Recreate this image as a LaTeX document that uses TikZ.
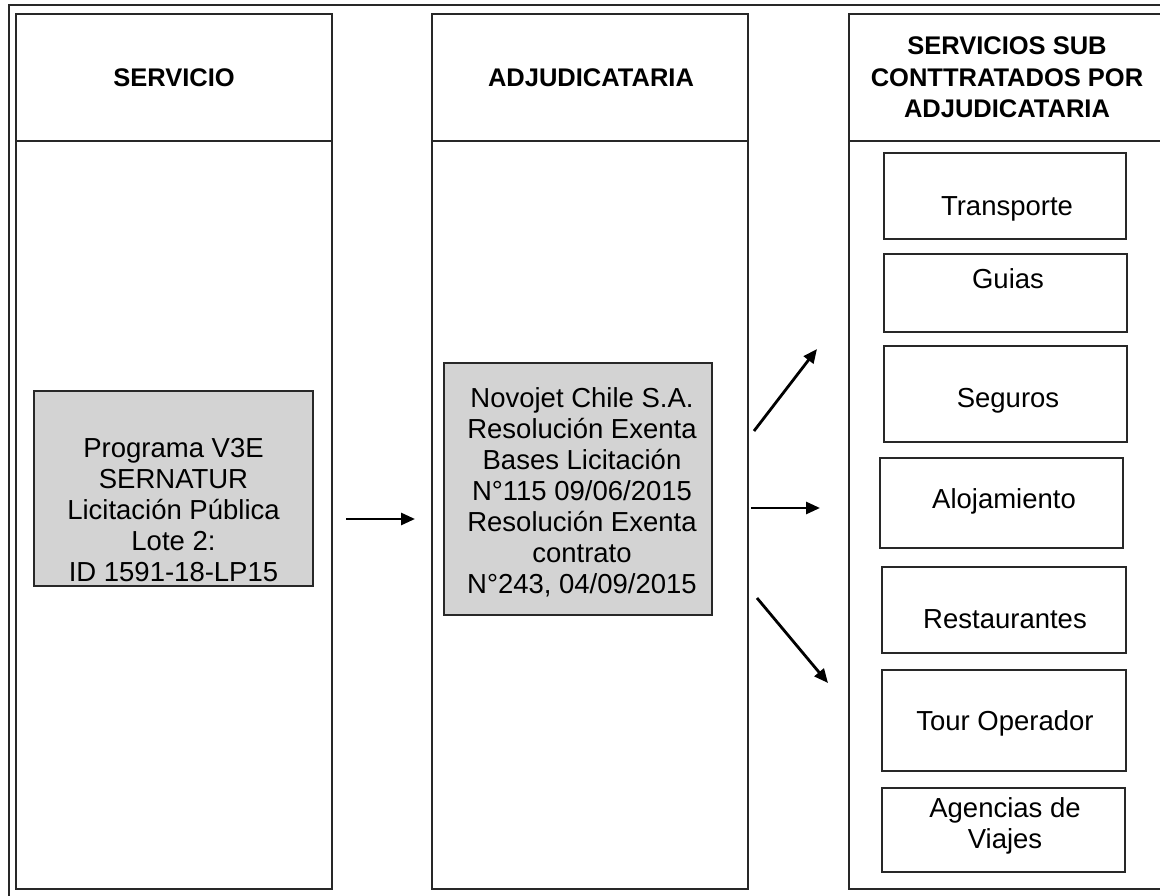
\documentclass[tikz,border=0pt]{standalone}
\usepackage{fontspec}
\setmainfont{Liberation Sans}
\usetikzlibrary{arrows.meta}
\definecolor{boxgray}{RGB}{211,211,211}
\definecolor{linegray}{RGB}{40,40,40}
\begin{document}
\begin{tikzpicture}[x=1pt,y=-1pt,
  outerframe/.style={draw=linegray, line width=1.3pt},
  colbox/.style={draw=linegray, line width=1.6pt, minimum width=316pt, minimum height=875pt, inner sep=0pt},
  graybox/.style={draw=linegray, line width=1.5pt, fill=boxgray, inner sep=0pt},
  subbox/.style={draw=linegray, line width=1.5pt, inner sep=0pt},
  headtxt/.style={font=\fontsize{25.5}{31.5}\selectfont\bfseries, align=center, anchor=base, inner sep=0pt},
  bodytxt/.style={font=\fontsize{27.5}{31}\selectfont, align=center, anchor=base, inner sep=0pt},
  flow/.style={line width=2.8pt, -{Triangle[length=14pt,width=12pt]}}]
\clip (0,0) rectangle (1160,896);
\fill[white] (0,0) rectangle (1160,896);
% outer frame
\draw[outerframe] (9,5) rectangle (1175,905);
% columns
\node[colbox] (c1) at (174,451.5) {};
\node[colbox] (c2) at (590,451.5) {};
\node[colbox] (c3) at (1007,451.5) {};
\draw[draw=linegray, line width=1.6pt] (c1.west |- 0,141) -- (c1.east |- 0,141);
\draw[draw=linegray, line width=1.6pt] (c2.west |- 0,141) -- (c2.east |- 0,141);
\draw[draw=linegray, line width=1.6pt] (c3.west |- 0,141) -- (c3.east |- 0,141);
% headers
\node[headtxt] (h1) at (174,87) {SERVICIO};
\node[headtxt] (h2) at (591,87) {ADJUDICATARIA};
\node[headtxt] (h3) at (1007,118) {SERVICIOS SUB\\CONTTRATADOS POR\\ADJUDICATARIA};
% gray boxes
\node[graybox, minimum width=279pt, minimum height=195pt] (g1) at (173.5,488.5) {};
\node[bodytxt] (g1t) at (173.5,581) {Programa V3E\\SERNATUR\\Licitación Pública\\Lote 2:\\ID 1591-18-LP15};
\node[graybox, minimum width=268pt, minimum height=252pt] (g2) at (578,489) {};
\node[bodytxt] (g2t) at (582,593) {Novojet Chile S.A.\\Resolución Exenta\\Bases Licitación\\N°115 09/06/2015\\Resolución Exenta\\contrato\\N°243, 04/09/2015};
% sub boxes
\node[subbox, minimum width=242pt, minimum height=86pt] (s1) at (1005,196) {};
\node[bodytxt] (s1t) at (1007,216) {Transporte};
\node[subbox, minimum width=243pt, minimum height=78pt] (s2) at (1005.5,293) {};
\node[bodytxt] (s2t) at (1008,288) {Guias};
\node[subbox, minimum width=243pt, minimum height=96pt] (s3) at (1005.5,394) {};
\node[bodytxt] (s3t) at (1008,407) {Seguros};
\node[subbox, minimum width=243pt, minimum height=90pt] (s4) at (1001.5,503) {};
\node[bodytxt] (s4t) at (1004,508) {Alojamiento};
\node[subbox, minimum width=244pt, minimum height=86pt] (s5) at (1004,610) {};
\node[bodytxt] (s5t) at (1005,628) {Restaurantes};
\node[subbox, minimum width=244pt, minimum height=101pt] (s6) at (1004,720.5) {};
\node[bodytxt] (s6t) at (1005,730) {Tour Operador};
\node[subbox, minimum width=243pt, minimum height=84pt] (s7) at (1003.5,830) {};
\node[bodytxt] (s7t) at (1005,848) {Agencias de\\Viajes};
% arrow end points
\coordinate (a1s) at (346,519);
\coordinate (a1e) at (415,519);
\coordinate (a2s) at (751,508);
\coordinate (a2e) at (820,508);
\coordinate (a3s) at (754,431);
\coordinate (a3e) at (817,349);
\coordinate (a4s) at (757,598);
\coordinate (a4e) at (828,683);
\draw[flow] (a1s) -- (a1e);
\draw[flow] (a2s) -- (a2e);
\draw[flow] (a3s) -- (a3e);
\draw[flow] (a4s) -- (a4e);
\end{tikzpicture}
\end{document}
